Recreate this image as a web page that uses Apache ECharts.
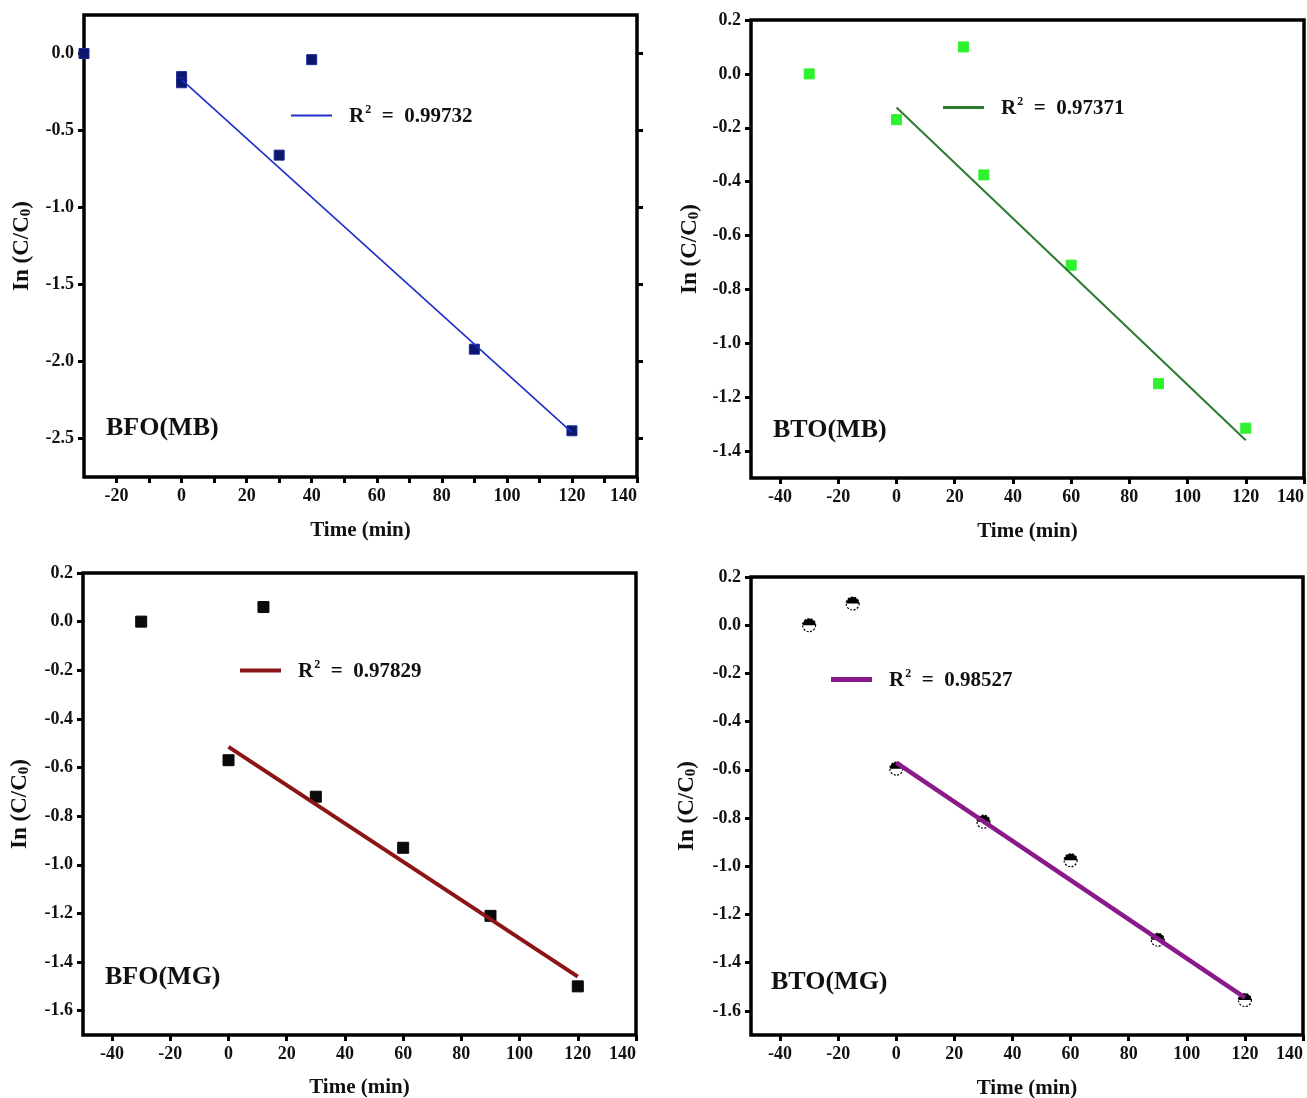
<!DOCTYPE html>
<html>
<head>
<meta charset="utf-8">
<title>Pseudo-first-order kinetics</title>
<script src="https://cdn.jsdelivr.net/npm/echarts@6/dist/echarts.min.js"></script>
<style>
  html, body { margin: 0; padding: 0; background: #fff; }
  #chart { width: 1307px; height: 1098px; }
</style>
</head>
<body>
<div id="chart"></div>
<script>
// ---- BFO, methylene blue ----
const bfoMbTime = [-30, 0, 0, 30, 40, 90, 120];
const bfoMbLn = [0.0, -0.15, -0.19, -0.66, -0.04, -1.92, -2.45];
const bfoMbFitTime = [0, 120];
const bfoMbFitLn = [-0.17, -2.46];
const bfoMbR2 = '0.99732';

// ---- BTO, methylene blue ----
const btoMbTime = [-30, 0, 23, 30, 60, 90, 120];
const btoMbLn = [0.0, -0.17, 0.10, -0.375, -0.71, -1.15, -1.315];
const btoMbFitTime = [0, 120];
const btoMbFitLn = [-0.125, -1.36];
const btoMbR2 = '0.97371';

// ---- BFO, malachite green ----
const bfoMgTime = [-30, 12, 0, 30, 60, 90, 120];
const bfoMgLn = [0.0, 0.06, -0.57, -0.72, -0.93, -1.21, -1.50];
const bfoMgFitTime = [0, 120];
const bfoMgFitLn = [-0.515, -1.46];
const bfoMgR2 = '0.97829';

// ---- BTO, malachite green ----
const btoMgTime = [-30, -15, 0, 30, 60, 90, 120];
const btoMgLn = [0.0, 0.09, -0.595, -0.815, -0.975, -1.305, -1.555];
const btoMgFitTime = [0, 120];
const btoMgFitLn = [-0.57, -1.545];
const btoMgR2 = '0.98527';

// ---- tick values ----
const xTicksA = [-20, 0, 20, 40, 60, 80, 100, 120, 140];
const xTicksAMinor = [-20, -10, 0, 10, 20, 30, 40, 50, 60, 70, 80, 90, 100, 110, 120, 130, 140];
const xTicksB = [-40, -20, 0, 20, 40, 60, 80, 100, 120, 140];
const yTicksBfoMb = [0, -0.5, -1.0, -1.5, -2.0, -2.5];
const yTicksBtoMb = [0.2, 0, -0.2, -0.4, -0.6, -0.8, -1.0, -1.2, -1.4];
const yTicksMg = [0.2, 0, -0.2, -0.4, -0.6, -0.8, -1.0, -1.2, -1.4, -1.6];

const FONT = '"Liberation Serif", "Times New Roman", serif';

function pairs(xs, ys) { return xs.map((x, i) => [x, ys[i]]); }

const panels = [
  {
    label: 'BFO(MB)', time: bfoMbTime, ln: bfoMbLn, fitT: bfoMbFitTime, fitY: bfoMbFitLn, r2: bfoMbR2,
    grid: { left: 84, top: 15, width: 553, height: 462 },
    xMin: -30, xMax: 140, xLabels: xTicksA, xTicks: xTicksAMinor,
    yMin: -2.75, yMax: 0.25, yTicks: yTicksBfoMb, rightTicks: true,
    marker: { symbol: 'rect', size: 10, color: '#0c176b', border: '#1b2a9a' },
    line: { color: '#1f2fc8', width: 1.6 },
    legendPos: { left: 291, top: 104 }, iconH: 2,
    labelPos: { left: 106, top: 415 },
    xGap: 43, yGap: 50
  },
  {
    label: 'BTO(MB)', time: btoMbTime, ln: btoMbLn, fitT: btoMbFitTime, fitY: btoMbFitLn, r2: btoMbR2,
    grid: { left: 751, top: 20, width: 553, height: 458 },
    xMin: -50, xMax: 140, xLabels: xTicksB, xTicks: xTicksB,
    yMin: -1.5, yMax: 0.2, yTicks: yTicksBtoMb, rightTicks: false,
    marker: { symbol: 'rect', size: 10, color: '#2df22d', border: '#2df22d' },
    line: { color: '#2b7a2f', width: 2 },
    legendPos: { left: 943, top: 96 }, iconH: 3,
    labelPos: { left: 773, top: 417 },
    xGap: 43, yGap: 49
  },
  {
    label: 'BFO(MG)', time: bfoMgTime, ln: bfoMgLn, fitT: bfoMgFitTime, fitY: bfoMgFitLn, r2: bfoMgR2,
    grid: { left: 83, top: 573, width: 553, height: 462 },
    xMin: -50, xMax: 140, xLabels: xTicksB, xTicks: xTicksB,
    yMin: -1.7, yMax: 0.2, yTicks: yTicksMg, rightTicks: false,
    marker: { symbol: 'rect', size: 11, color: '#0a0a0a', border: '#0a0a0a' },
    line: { color: '#8b1515', width: 4 },
    legendPos: { left: 240, top: 659 }, iconH: 4,
    labelPos: { left: 105, top: 964 },
    xGap: 42, yGap: 51
  },
  {
    label: 'BTO(MG)', time: btoMgTime, ln: btoMgLn, fitT: btoMgFitTime, fitY: btoMgFitLn, r2: btoMgR2,
    grid: { left: 751, top: 577, width: 552, height: 458 },
    xMin: -50, xMax: 140, xLabels: xTicksB, xTicks: xTicksB,
    yMin: -1.7, yMax: 0.2, yTicks: yTicksMg, rightTicks: false,
    marker: { symbol: 'halfCircle', size: 13 },
    line: { color: '#8a1a8a', width: 4.5 },
    legendPos: { left: 831, top: 668 }, iconH: 5,
    labelPos: { left: 771, top: 969 },
    xGap: 43, yGap: 52
  }
];

const option = {
  backgroundColor: '#ffffff',
  animation: false,
  grid: [], xAxis: [], yAxis: [], series: [], legend: [], graphic: []
};

const tickLabelStyle = {
  fontFamily: FONT, fontWeight: 'bold', fontSize: 18, color: '#111'
};
const tickStyle = { color: '#000', width: 3 };

panels.forEach((p, i) => {
  option.grid.push(Object.assign({
    show: true, borderColor: '#000', borderWidth: 3.5, backgroundColor: '#fff',
    containLabel: false, outerBoundsMode: 'none'
  }, p.grid));

  const xIdx = option.xAxis.length;
  option.xAxis.push({
    type: 'value', gridIndex: i, min: p.xMin, max: p.xMax, position: 'bottom',
    name: 'Time (min)', nameLocation: 'middle', nameGap: p.xGap,
    nameTextStyle: { fontFamily: FONT, fontWeight: 'bold', fontSize: 21, color: '#111' },
    axisLine: { show: false, onZero: false },
    axisTick: { show: true, inside: false, length: 6, lineStyle: tickStyle, customValues: p.xTicks },
    axisLabel: Object.assign({ show: true, margin: 10, customValues: p.xLabels,
      alignMaxLabel: 'right',
      formatter: v => String(Math.round(v)) }, tickLabelStyle),
    splitLine: { show: false }
  });

  const yIdx = option.yAxis.length;
  option.yAxis.push({
    type: 'value', gridIndex: i, min: p.yMin, max: p.yMax, position: 'left',
    name: '{m|In (C/C}{s|0}{m|)}', nameLocation: 'middle', nameRotate: 90, nameGap: p.yGap,
    nameTextStyle: {
      rich: {
        m: { fontFamily: FONT, fontWeight: 'bold', fontSize: 23, color: '#111', lineHeight: 26, verticalAlign: 'bottom' },
        s: { fontFamily: FONT, fontWeight: 'bold', fontSize: 15, color: '#111', lineHeight: 15, verticalAlign: 'bottom' }
      }
    },
    axisLine: { show: false, onZero: false },
    axisTick: { show: true, inside: false, length: 6, lineStyle: tickStyle, customValues: p.yTicks },
    axisLabel: Object.assign({ show: true, margin: 10, customValues: p.yTicks,
      formatter: v => (Math.abs(v) < 1e-9 ? 0 : v).toFixed(1) }, tickLabelStyle),
    splitLine: { show: false }
  });

  if (p.rightTicks) {
    option.yAxis.push({
      type: 'value', gridIndex: i, min: p.yMin, max: p.yMax, position: 'right',
      axisLine: { show: false, onZero: false },
      axisTick: { show: true, inside: false, length: 6, lineStyle: tickStyle, customValues: p.yTicks },
      axisLabel: { show: false },
      splitLine: { show: false }
    });
  }

  const points = pairs(p.time, p.ln);

  if (p.marker.symbol === 'halfCircle') {
    // white disc with a dotted rim, then a solid upper half on top of it
    option.series.push({
      name: p.label + ' data', type: 'scatter', xAxisIndex: xIdx, yAxisIndex: yIdx,
      data: points, symbol: 'circle', symbolSize: p.marker.size,
      itemStyle: { color: '#fff', borderColor: '#000', borderWidth: 1.2, borderType: [2, 1.5], opacity: 1 },
      z: 3
    });
    option.series.push({
      name: p.label + ' data top', type: 'scatter', xAxisIndex: xIdx, yAxisIndex: yIdx,
      data: points, symbol: 'path://M0,10 A10,10 0 0 1 20,10 Z',
      symbolSize: [p.marker.size, p.marker.size / 2], symbolOffset: [0, -p.marker.size / 4],
      itemStyle: { color: '#000', opacity: 1 },
      z: 4
    });
  } else {
    option.series.push({
      name: p.label + ' data', type: 'scatter', xAxisIndex: xIdx, yAxisIndex: yIdx,
      data: points, symbol: p.marker.symbol, symbolSize: p.marker.size,
      itemStyle: { color: p.marker.color, borderColor: p.marker.border, borderWidth: 1, opacity: 1 },
      z: 3
    });
  }

  const fitName = p.label + ' fit';
  option.series.push({
    name: fitName, type: 'line', xAxisIndex: xIdx, yAxisIndex: yIdx,
    data: pairs(p.fitT, p.fitY), showSymbol: false, symbol: 'none',
    lineStyle: { color: p.line.color, width: p.line.width },
    itemStyle: { color: p.line.color },
    z: 5
  });

  option.legend.push({
    data: [fitName], left: p.legendPos.left, top: p.legendPos.top, padding: 0,
    orient: 'horizontal', selectedMode: false,
    icon: 'rect', itemWidth: 41, itemHeight: p.iconH,
    formatter: () => '{m|R}{s|2}{m|  =  ' + p.r2 + '}',
    textStyle: {
      padding: [0, 0, 0, 12],
      rich: {
        m: { fontFamily: FONT, fontWeight: 'bold', fontSize: 21, color: '#111', lineHeight: 23, verticalAlign: 'bottom' },
        s: { fontFamily: FONT, fontWeight: 'bold', fontSize: 12, color: '#111', lineHeight: 23, verticalAlign: 'top', padding: [0, 0, 10, 1] }
      }
    }
  });

  option.graphic.push({
    type: 'text', left: p.labelPos.left, top: p.labelPos.top, z: 10,
    style: { text: p.label, font: 'bold 26px ' + FONT, fill: '#111' }
  });
});

const chart = echarts.init(document.getElementById('chart'), null, { renderer: 'canvas' });
chart.setOption(option);
</script>
</body>
</html>
